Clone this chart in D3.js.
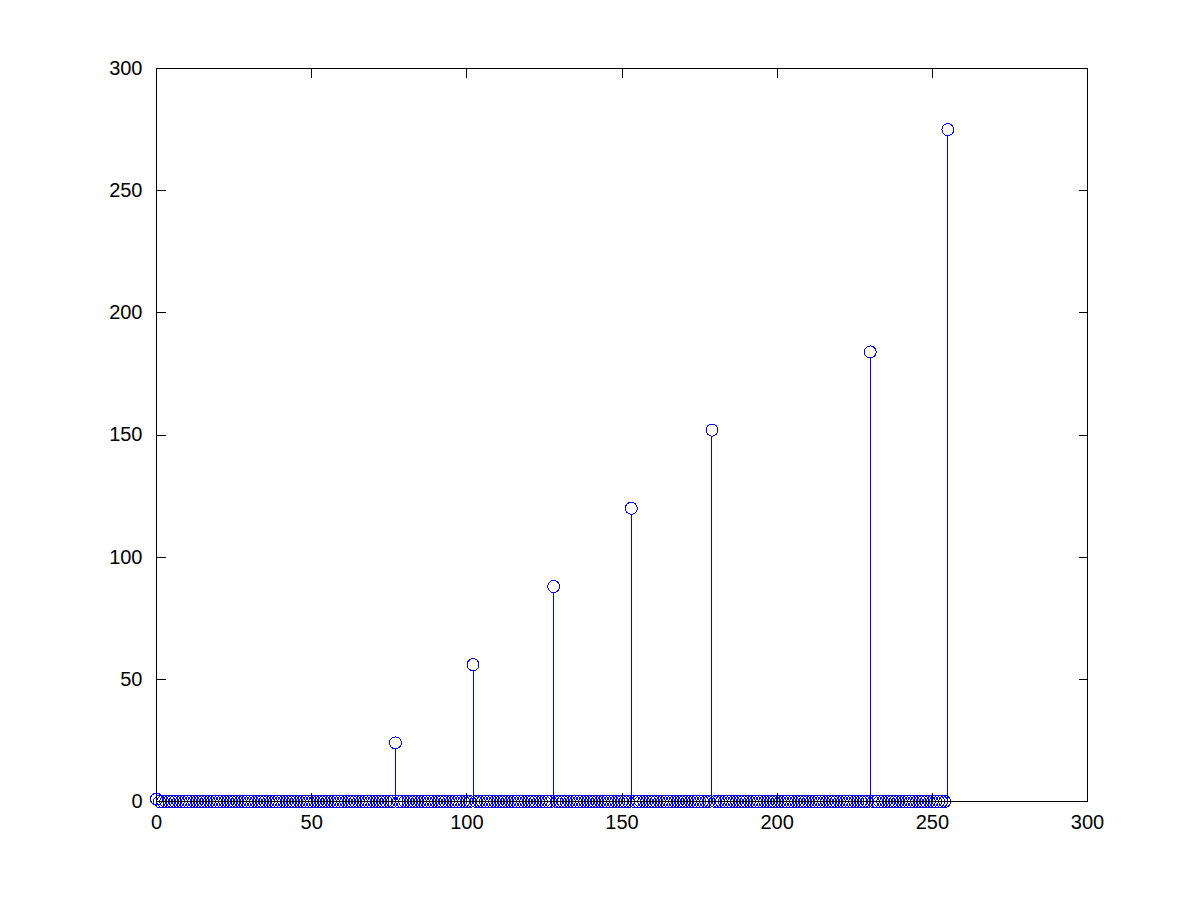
<!DOCTYPE html>
<html>
<head>
<meta charset="utf-8">
<script src="https://cdn.jsdelivr.net/npm/d3@7"></script>
<style>
  html, body { margin: 0; padding: 0; background: #fff; }
  svg { display: block; }
  text { font-family: "Liberation Sans", Arial, sans-serif; }
</style>
</head>
<body>
<div id="chart"></div>
<script>
// histogram counts, bins 0..255; every bin empty except these
const binCount = 256
const peakBins = [0, 77, 102, 128, 153, 179, 230, 255]
const peakCounts = [1, 24, 56, 88, 120, 152, 184, 275]

const xTicks = [0, 50, 100, 150, 200, 250, 300]
const yTicks = [0, 50, 100, 150, 200, 250, 300]

const counts = d3.range(binCount).map(b => {
  const i = peakBins.indexOf(b)
  return { bin: b, count: i < 0 ? 0 : peakCounts[i] }
})

const width = 1201
const height = 901
const margin = { left: 156, right: 114, top: 68, bottom: 100 }

const x = d3.scaleLinear().domain([0, 300]).range([margin.left, width - margin.right])
const y = d3.scaleLinear().domain([0, 300]).range([height - margin.bottom, margin.top])

const svg = d3.select("#chart").append("svg")
  .attr("width", width)
  .attr("height", height)

const blue = "#0000ff"
const tickLen = 9

// stems
svg.append("g")
  .attr("shape-rendering", "crispEdges")
  .selectAll("line")
  .data(counts.filter(d => d.count > 0))
  .enter().append("line")
    .attr("x1", d => x(d.bin) + 0.5)
    .attr("x2", d => x(d.bin) + 0.5)
    .attr("y1", y(0))
    .attr("y2", d => y(d.count) + 6)
    .attr("stroke", blue)
    .attr("stroke-width", 1)

// baseline
svg.append("line")
  .attr("x1", x(0)).attr("x2", x(300))
  .attr("y1", y(0) + 0.5).attr("y2", y(0) + 0.5)
  .attr("stroke", "#000")
  .attr("shape-rendering", "crispEdges")

// markers
svg.append("g")
  .attr("shape-rendering", "crispEdges")
  .selectAll("circle")
  .data(counts)
  .enter().append("circle")
    .attr("cx", d => x(d.bin) + 0.5)
    .attr("cy", d => y(d.count) + 0.5)
    .attr("r", 6)
    .attr("fill", "none")
    .attr("stroke", blue)
    .attr("stroke-width", 1)

// axes, MATLAB style: box with inward ticks on all four sides
const xAxisBottom = d3.axisBottom(x).tickValues(xTicks).tickSize(-tickLen).tickPadding(tickLen + 4)
const xAxisTop = d3.axisTop(x).tickValues(xTicks).tickSize(-tickLen).tickFormat("")
const yAxisLeft = d3.axisLeft(y).tickValues(yTicks).tickSize(-tickLen).tickPadding(tickLen + 5)
const yAxisRight = d3.axisRight(y).tickValues(yTicks).tickSize(-tickLen).tickFormat("")

function style(g) {
  g.select(".domain").remove()
  g.selectAll("line").attr("stroke", "#000").attr("shape-rendering", "crispEdges")
  g.selectAll("text").attr("font-size", 20).attr("fill", "#000")
}

svg.append("g").attr("transform", `translate(0,${y(0) + 0.5})`).call(xAxisBottom).call(style)
svg.append("g").attr("transform", `translate(0,${y(300) + 0.5})`).call(xAxisTop).call(style)
svg.append("g").attr("transform", `translate(${x(0) + 0.5},0)`).call(yAxisLeft).call(style)
svg.append("g").attr("transform", `translate(${x(300) + 0.5},0)`).call(yAxisRight).call(style)

svg.append("rect")
  .attr("x", x(0) + 0.5)
  .attr("y", y(300) + 0.5)
  .attr("width", x(300) - x(0))
  .attr("height", y(0) - y(300))
  .attr("fill", "none")
  .attr("stroke", "#000")
  .attr("shape-rendering", "crispEdges")
</script>
</body>
</html>
